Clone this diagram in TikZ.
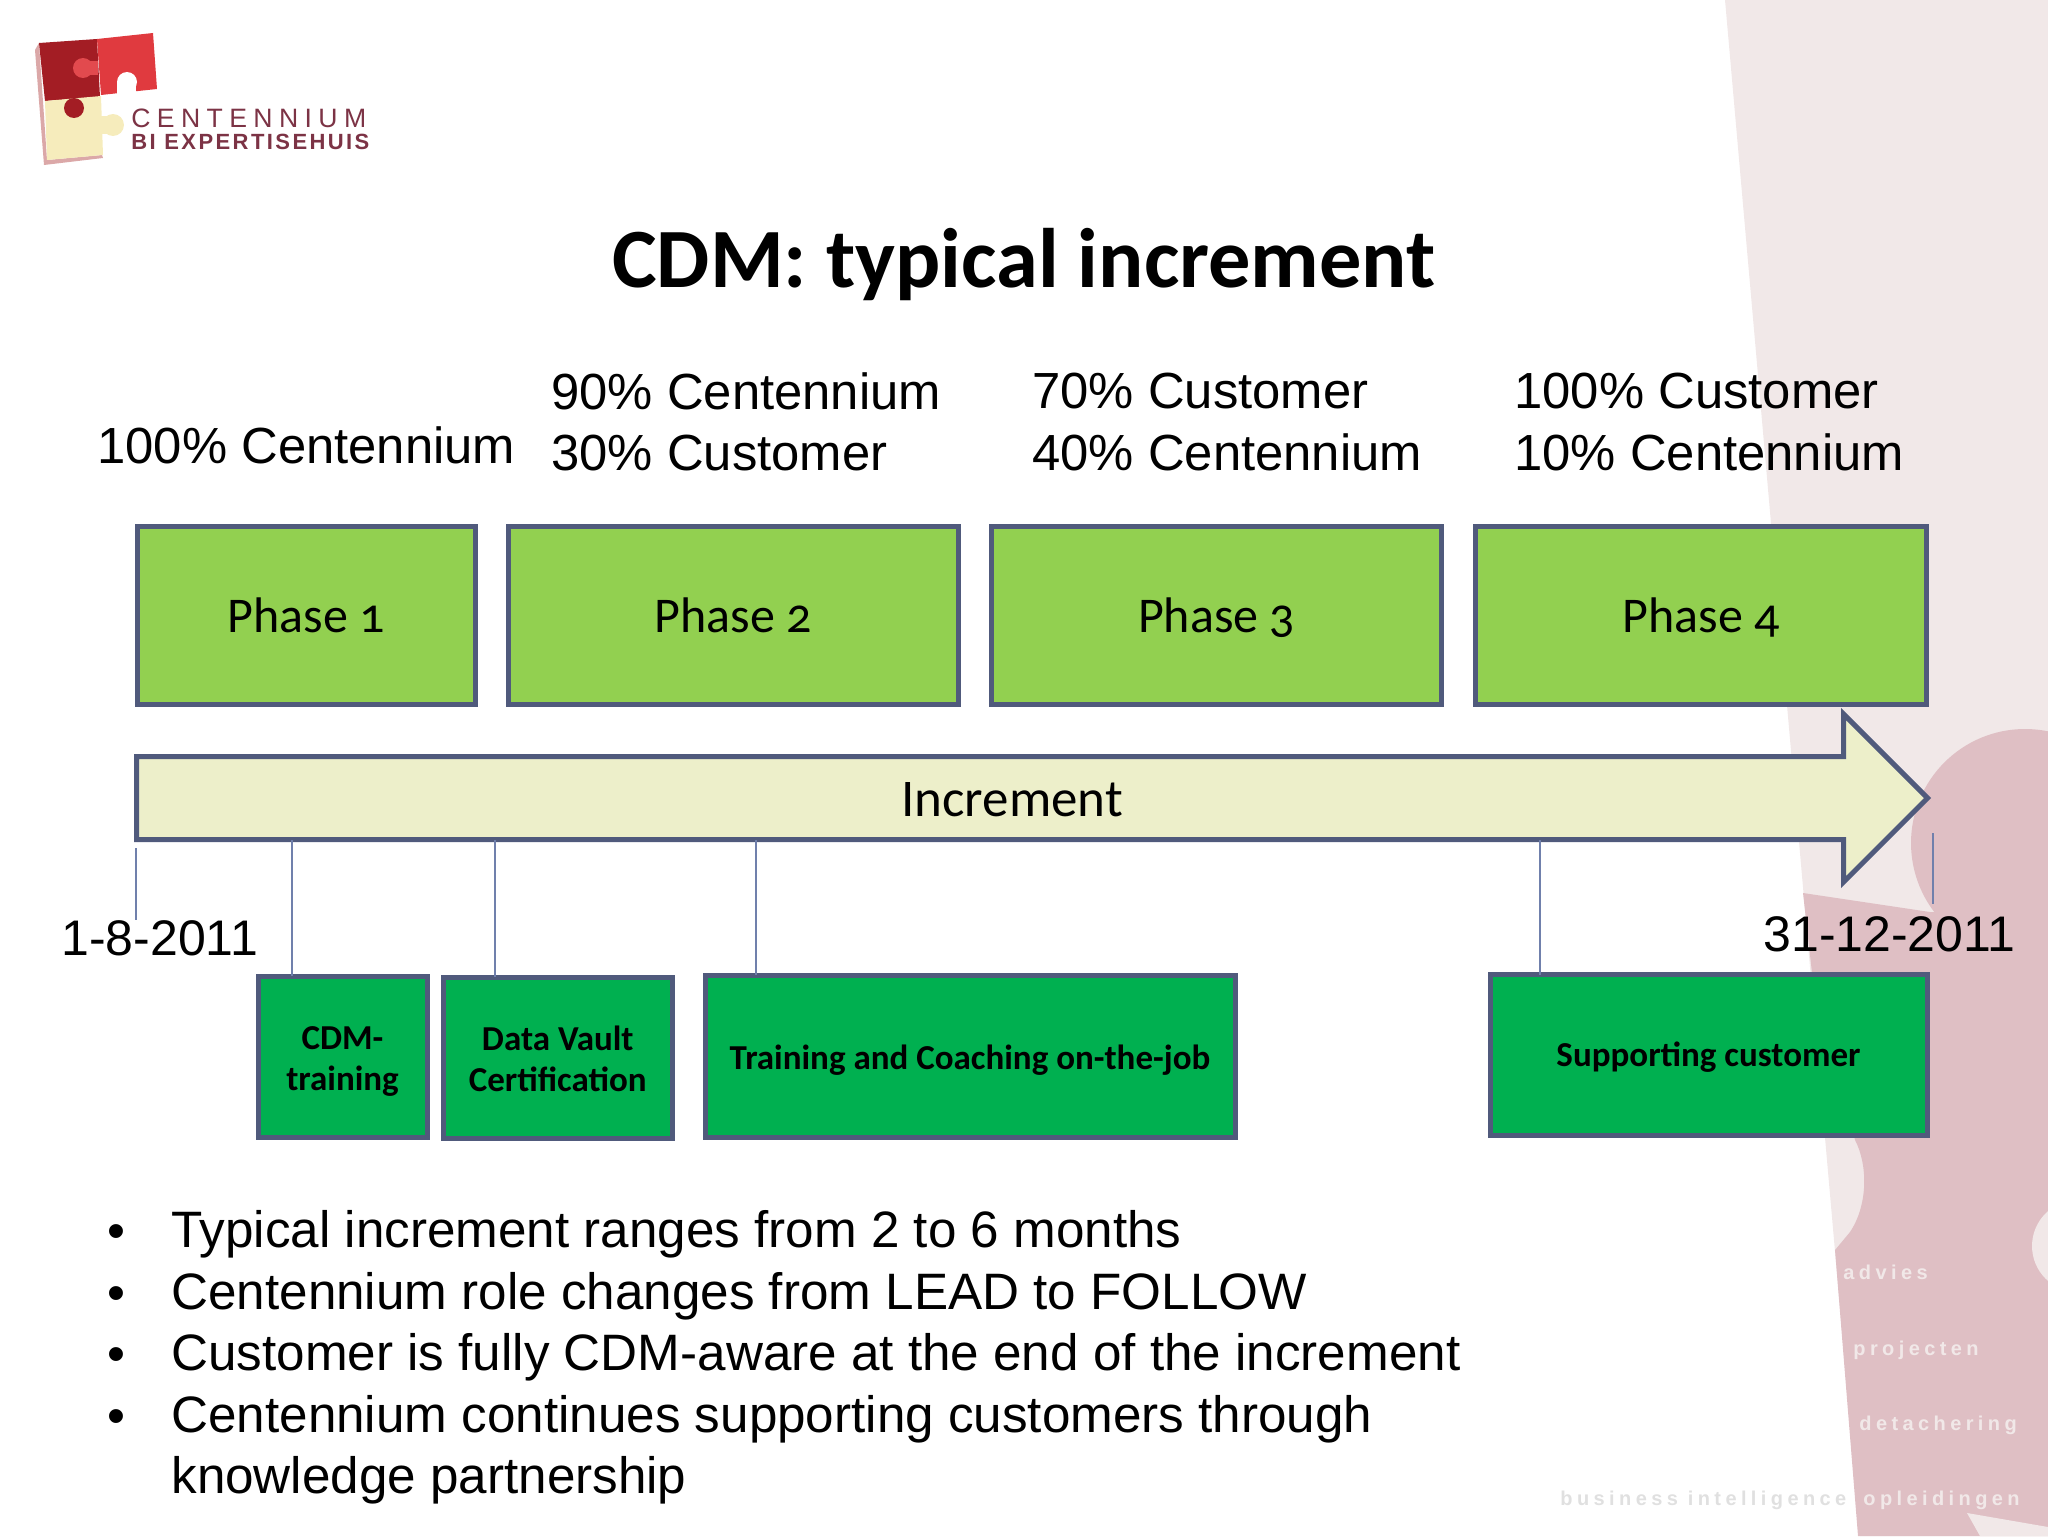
\documentclass[tikz,border=0pt]{standalone}
\usepackage{fontspec}
\setmainfont{Liberation Sans}
\newfontfamily\slidefont[Numbers=OldStyle]{Carlito}
\newfontfamily\logofont[LetterSpace=24]{Liberation Sans}
\newfontfamily\logofontb[LetterSpace=11]{Liberation Sans}
\newfontfamily\wmfont[LetterSpace=22]{Liberation Sans}
\usetikzlibrary{positioning,shapes.arrows}
\definecolor{paleback}{HTML}{F1E8E8}
\definecolor{darkback}{HTML}{DFBFC4}
\definecolor{edgeblue}{HTML}{505A7C}
\definecolor{linkblue}{HTML}{7080AC}
\definecolor{phasegreen}{HTML}{92D050}
\definecolor{taskgreen}{HTML}{00B050}
\definecolor{arrowfill}{HTML}{EDEFCA}
\definecolor{logodark}{HTML}{A31D24}
\definecolor{logored}{HTML}{E03A3F}
\definecolor{logocream}{HTML}{F6ECBC}
\definecolor{logoshadow}{HTML}{DBA8A8}
\definecolor{logotext}{HTML}{7C3345}
\tikzset{
	phasebox/.style={draw=edgeblue, fill=phasegreen, line width=2.5pt, outer sep=0pt,
		minimum height=89pt, text height=22pt, text depth=5pt, font=\slidefont\fontsize{25}{29}\selectfont},
	taskbox/.style={draw=edgeblue, fill=taskgreen, line width=2.5pt, outer sep=0pt},
	tasklabel/.style={align=center, inner sep=0pt, font=\slidefont\bfseries\fontsize{17.5}{20.3}\selectfont},
	share/.style={anchor=west, align=left, inner sep=0pt, font=\fontsize{25.4}{30.7}\selectfont},
	datelabel/.style={anchor=west, inner sep=0pt, font=\fontsize{25}{30}\selectfont},
	bulletline/.style={anchor=north west, align=left, inner sep=0pt, font=\fontsize{25.6}{30.7}\selectfont},
	ticklink/.style={draw=linkblue, line width=1.4pt},
	wmark/.style={anchor=base west, inner sep=0pt, font=\wmfont\bfseries\fontsize{10}{12}\selectfont}
}
\begin{document}
\begin{tikzpicture}[x=0.5pt,y=-0.5pt]
	\useasboundingbox (0,0) rectangle (2048,1536);
	\fill[paleback] (1725,0) -- (2048,0) -- (2048,1536) -- (1860,1536) -- cycle;
	\fill[darkback] (2025,843) circle (114);
	\fill[darkback] (1803,893) -- (1930,912) -- (2048,912) -- (2048,1536) -- (1858,1536) -- (1835,1250)
		-- (1850,1232) .. controls (1868,1205) and (1868,1165) .. (1855,1140) -- (1812,973) -- cycle;
	\fill[paleback] (2078,1246) circle (46);
	\fill[paleback] (1967,1513) -- (2048,1527) -- (2048,1536) -- (1980,1536) -- cycle;
	\node[wmark, text=paleback] at (1843,1279) {advies};
	\node[wmark, text=paleback] at (1853,1355) {projecten};
	\node[wmark, text=paleback] at (1859,1430) {detachering};
	\node[wmark, text=paleback] at (1863,1505) {opleidingen};
	\node[wmark, text=black!12] at (1560,1505) {business intelligence};

	\fill[logoshadow] (35,50) -- (39,43) -- (47,160) -- (102,155) -- (103,158) -- (44,165) -- cycle;
	\fill[logodark] (39,43) -- (97,39) -- (100,97) -- (45,101) -- cycle;
	\fill[logored] (97,39) -- (153,33) -- (157,89) -- (101,95) -- cycle;
	\fill[logored!92!white] (83,68) circle (10);
	\fill[logored!92!white] (84,61) rectangle (98,75);
	\fill[white] (127,82) circle (10);
	\fill[white] (117,82) rectangle (136,100);
	\fill[logocream] (45,101) -- (101,96) -- (103,155) -- (47,160) -- cycle;
	\fill[logocream] (113,125) circle (11);
	\fill[logocream] (100,116) rectangle (110,134);
	\fill[logodark] (74,108) circle (10);
	\node[anchor=base west, inner sep=0pt, text=logotext, font=\logofont\fontsize{13.3}{16}\selectfont] (logoname) at (131,127) {CENTENNIUM};
	\node[anchor=base west, inner sep=0pt, text=logotext, font=\logofontb\bfseries\fontsize{11}{13}\selectfont] (logosub) at (131,149) {BI EXPERTISEHUIS};

	\node[font=\slidefont\bfseries\fontsize{42.2}{50}\selectfont] (title) at (1024,265) {CDM: typical increment};

	\node[share] (share1) at (97,445) {100\% Centennium};
	\node[share] (share2) at (551,422) {90\% Centennium\\30\% Customer};
	\node[share] (share3) at (1032,422) {70\% Customer\\40\% Centennium};
	\node[share] (share4) at (1514,422) {100\% Customer\\10\% Centennium};

	\node[phasebox, minimum width=169pt] (phase1) at (306.3,615) {Phase 1};
	\node[phasebox, minimum width=225.2pt, right=16.4pt of phase1] (phase2) {Phase 2};
	\node[phasebox, minimum width=225.2pt, right=16.45pt of phase2] (phase3) {Phase 3};
	\node[phasebox, minimum width=225.2pt, right=17pt of phase3] (phase4) {Phase 4};

	\node[single arrow, draw=edgeblue, fill=arrowfill, line width=2.5pt, inner xsep=0pt, inner ysep=19.5pt, outer sep=0pt,
		single arrow head extend=21.25pt, single arrow head indent=0pt,
		minimum height=895.5pt, anchor=tail] (increment) at (136.5,798) {};
	\node[font=\slidefont\fontsize{26.5}{31}\selectfont] (incrementlabel) at (1012,800) {Increment};

	\node[taskbox, minimum width=84.5pt, minimum height=80.5pt] (cdm) at (342.5,1056.5) {};
	\node[taskbox, minimum width=114.25pt, minimum height=80.5pt] (vault) at (557.75,1057.5) {};
	\node[taskbox, minimum width=265pt, minimum height=81pt] (coaching) at (970,1056) {};
	\node[taskbox, minimum width=218.5pt, minimum height=80.25pt] (support) at (1708.5,1054.75) {};
	\node[tasklabel, yshift=-2.6pt] (cdmlabel) at (cdm) {CDM-\\training};
	\node[tasklabel, yshift=-0.6pt] (vaultlabel) at (vault) {Data Vault\\Certification};
	\node[tasklabel, yshift=-2pt] (coachinglabel) at (coaching) {Training and Coaching on-the-job};
	\node[tasklabel, yshift=-1.3pt] (supportlabel) at (support) {Supporting customer};

	\coordinate (shaftfoot) at (136.5,840);
	\foreach \boxname/\x in {cdm/292,vault/495,coaching/756,support/1540}{
		\coordinate (\boxname tick) at (\x,900);
		\draw[ticklink] (shaftfoot -| \boxname tick) -- (\boxname.north -| \boxname tick);
	}

	\coordinate (starttop) at (136,848);
	\coordinate (startfoot) at (136,920);
	\coordinate (endtop) at (1933,833);
	\coordinate (endfoot) at (1933,904);
	\node[datelabel] (startdate) at (61,938) {1-8-2011};
	\node[datelabel] (enddate) at (1763,934) {31-12-2011};
	\draw[ticklink] (starttop) -- (startfoot);
	\draw[ticklink] (endtop) -- (endfoot);

	\foreach \name/\y/\txt in {b1/1210/{Typical increment ranges from 2 to 6 months},
		b2/1272/{Centennium role changes from LEAD to FOLLOW},
		b3/1333/{Customer is fully CDM-aware at the end of the increment},
		b4/1395/{Centennium continues supporting customers through\\knowledge partnership}}{
		\node[bulletline] (\name) at (171,\y) {\txt};
		\node[bulletline, anchor=north] (\name dot) at (116,\y+14) {\textbullet};
	}
\end{tikzpicture}
\end{document}
